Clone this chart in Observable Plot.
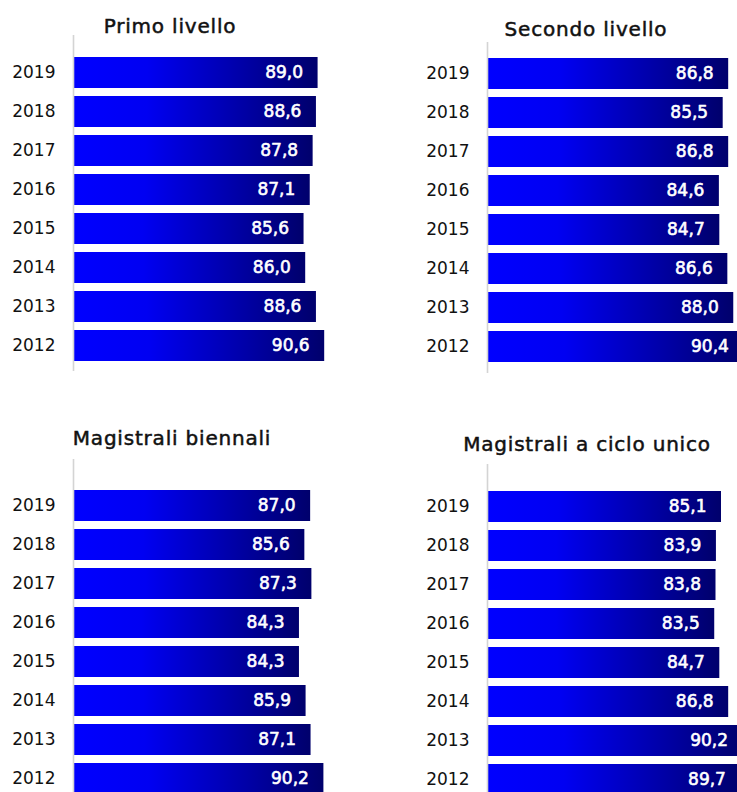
<!DOCTYPE html>
<html>
<head>
<meta charset="utf-8">
<script src="https://cdn.jsdelivr.net/npm/d3@7"></script>
<script src="https://cdn.jsdelivr.net/npm/@observablehq/plot@0.6"></script>
<style>
  html, body { margin: 0; padding: 0; background: #fff; overflow: hidden; }
  #wrap { position: relative; width: 737px; height: 792px; overflow: hidden; background: #fff; }
  .panel { position: absolute; }
  #titles { position: absolute; left: 0; top: 0; }
</style>
</head>
<body>
<div id="wrap"></div>
<script>
const years = ["2019", "2018", "2017", "2016", "2015", "2014", "2013", "2012"];
const primoLivello = [89.0, 88.6, 87.8, 87.1, 85.6, 86.0, 88.6, 90.6];
const secondoLivello = [86.8, 85.5, 86.8, 84.6, 84.7, 86.6, 88.0, 90.4];
const magistraliBiennali = [87.0, 85.6, 87.3, 84.3, 84.3, 85.9, 87.1, 90.2];
const magistraliCicloUnico = [85.1, 83.9, 83.8, 83.5, 84.7, 86.8, 90.2, 89.7];
const titles = ["Primo livello", "Secondo livello", "Magistrali biennali", "Magistrali a ciclo unico"];
const xDomain = [30, 100];

const fmt = v => v.toFixed(1).replace(".", ",");
const svgNS = "http://www.w3.org/2000/svg";

function gradientDefs(id) {
  return () => {
    const defs = document.createElementNS(svgNS, "defs");
    const lg = document.createElementNS(svgNS, "linearGradient");
    lg.setAttribute("id", id);
    lg.setAttribute("x1", "0"); lg.setAttribute("x2", "1");
    lg.setAttribute("y1", "0"); lg.setAttribute("y2", "0");
    [["0", "#0000ff"], ["0.3", "#0000f2"], ["1", "#00006c"]].forEach(([o, c]) => {
      const s = document.createElementNS(svgNS, "stop");
      s.setAttribute("offset", o);
      s.setAttribute("stop-color", c);
      lg.appendChild(s);
    });
    defs.appendChild(lg);
    return defs;
  };
}

function panel(values, cfg) {
  const data = years.map((y, i) => ({year: y, value: values[i]}));
  const chart = Plot.plot({
    width: cfg.width,
    height: cfg.height,
    marginLeft: cfg.marginLeft,
    marginRight: cfg.marginRight,
    marginTop: cfg.marginTop,
    marginBottom: cfg.marginBottom,
    style: {fontFamily: "DejaVu Sans", fontSize: "17px", color: "#111", background: "transparent", maxWidth: "none", overflow: "visible"},
    x: {domain: xDomain, axis: null},
    y: {domain: years, range: cfg.yRange, padding: 0.21, axis: null},
    marks: [
      gradientDefs(cfg.id),
      Plot.barX(data, {x1: xDomain[0], x2: "value", y: "year", fill: `url(#${cfg.id})`}),
      Plot.ruleX([xDomain[0]], {stroke: "#d4d4d4", strokeWidth: 1.6, dx: -1}),
      Plot.axisY({tickSize: 0, tickPadding: 19, fontSize: 17, label: null}),
      Plot.text(data, {x: "value", y: "year", text: d => fmt(d.value), textAnchor: "end", dx: -15, fill: "white", stroke: "white", strokeWidth: 0.6, fontSize: 17, fontWeight: "normal", letterSpacing: 1})
    ]
  });
  chart.classList.add("panel");
  chart.style.left = cfg.left + "px";
  chart.style.top = cfg.top + "px";
  return chart;
}

const wrap = document.getElementById("wrap");
wrap.appendChild(panel(primoLivello, {id: "g1", left: 0, top: 0, width: 370, height: 380, marginLeft: 74, marginRight: 7, marginTop: 35, marginBottom: 9, yRange: [45.7, 371.6]}));
wrap.appendChild(panel(secondoLivello, {id: "g2", left: 370, top: 0, width: 420, height: 380, marginLeft: 118, marginRight: 6, marginTop: 42, marginBottom: 7, yRange: [47.7, 371.4]}));
wrap.appendChild(panel(magistraliBiennali, {id: "g3", left: 0, top: 410, width: 370, height: 400, marginLeft: 74, marginRight: 6, marginTop: 49, marginBottom: 0, yRange: [70.75, 393.3]}));
wrap.appendChild(panel(magistraliCicloUnico, {id: "g4", left: 370, top: 410, width: 420, height: 400, marginLeft: 118, marginRight: 6, marginTop: 54, marginBottom: 0, yRange: [70.7, 395.6]}));

// Panel titles
const tsvg = d3.create("svg").attr("id", "titles").attr("width", 737).attr("height", 792)
  .style("font-family", "DejaVu Sans").style("pointer-events", "none");
const titlePos = [[170, 33], [586, 36], [172, 445], [587, 451]];
titles.forEach((t, i) => {
  tsvg.append("text").attr("x", titlePos[i][0]).attr("y", titlePos[i][1])
    .attr("text-anchor", "middle").attr("font-size", 20).attr("font-weight", "normal")
    .attr("letter-spacing", 0.8).attr("fill", "#111").attr("stroke", "#111").attr("stroke-width", 0.5)
    .attr("paint-order", "stroke").text(t);
});
wrap.appendChild(tsvg.node());
</script>
</body>
</html>
